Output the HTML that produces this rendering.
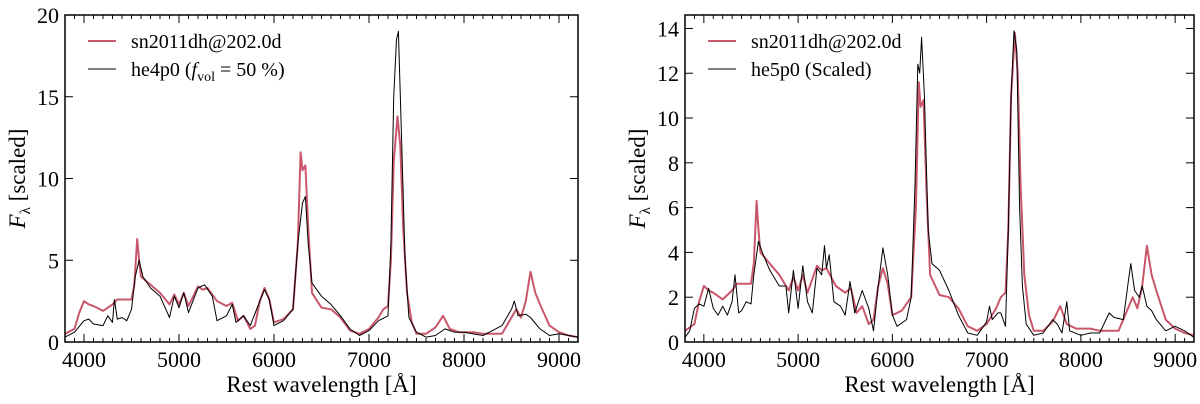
<!DOCTYPE html>
<html><head><meta charset="utf-8"><style>
html,body{margin:0;padding:0;background:#fff;}
svg{display:block;font-family:"Liberation Serif",serif;}
</style></head><body>
<svg id="chart" width="1200" height="404"></svg>
<script>
const wlRed=[3800,3900,3950,4000,4050,4100,4200,4300,4350,4400,4500,4530,4560,4580,4600,4700,4800,4900,4950,5000,5050,5100,5200,5250,5300,5400,5500,5560,5620,5680,5750,5800,5850,5900,5950,6000,6100,6200,6250,6280,6300,6330,6360,6400,6500,6600,6700,6800,6900,7000,7100,7150,7200,7230,7260,7300,7330,7360,7400,7450,7500,7600,7700,7780,7850,7950,8100,8200,8400,8500,8550,8600,8650,8700,8750,8800,8900,9000,9100,9200];
const fluxRed=[0.5,0.8,1.8,2.5,2.3,2.2,1.9,2.3,2.6,2.6,2.6,3.5,6.3,5,4,3.5,3,2.3,2.9,2.3,3,2.2,3.4,3.2,3.3,2.5,2.2,2.4,1.3,1.6,0.8,1.0,2.5,3.3,2.6,1.2,1.4,2.0,6,11.6,10.5,10.8,7,3,2.1,2.0,1.5,0.7,0.5,0.8,1.5,2.0,2.2,5,11,13.8,12,7,3,1.2,0.5,0.5,0.9,1.6,0.8,0.6,0.6,0.5,0.5,1.5,2.0,1.5,2.5,4.3,3,2.3,1.0,0.6,0.4,0.3];
const wlHe4=[3800,3900,4000,4050,4100,4200,4250,4300,4320,4350,4400,4450,4500,4540,4580,4620,4700,4800,4900,4950,5000,5050,5100,5200,5270,5350,5400,5500,5560,5600,5680,5750,5850,5900,5950,6000,6100,6200,6250,6300,6330,6360,6400,6500,6600,6700,6800,6900,7000,7100,7200,7230,7260,7290,7310,7340,7380,7420,7500,7600,7700,7800,7900,8000,8200,8300,8400,8500,8530,8570,8650,8700,8800,8900,9000,9100,9200];
const fluxHe4=[0.3,0.6,1.3,1.4,1.1,1.0,1.6,1.2,2.6,1.4,1.5,1.3,2.0,4,5,4,3.3,2.8,1.5,2.8,2.1,3,1.8,3.3,3.5,2.8,1.3,1.6,2.3,1.2,1.6,1.0,2.5,3.2,2.6,1.0,1.3,2.0,6,8.5,8.9,6,3.6,2.8,2.3,1.6,0.8,0.4,0.7,1.3,1.6,6,15,18.5,19,13,5,1.5,0.6,0.3,0.4,0.8,0.6,0.6,0.4,0.7,1.0,2.0,2.5,1.6,1.7,1.5,0.8,0.4,0.5,0.4,0.3];
const wlHe5=[3800,3850,3900,3950,4000,4050,4100,4150,4200,4250,4300,4330,4370,4400,4450,4500,4530,4580,4620,4700,4800,4870,4900,4950,5000,5050,5100,5150,5200,5250,5280,5300,5330,5380,5450,5500,5550,5600,5680,5750,5800,5850,5900,5950,6000,6050,6150,6200,6240,6270,6290,6310,6340,6380,6420,6500,6600,6700,6800,6900,7000,7030,7060,7120,7150,7200,7230,7260,7290,7320,7350,7380,7420,7500,7600,7700,7750,7800,7850,7880,8000,8100,8200,8300,8350,8450,8500,8530,8570,8620,8650,8700,8750,8800,8900,9000,9100,9200];
const fluxHe5=[0.2,0.5,1.5,1.7,1.6,2.4,1.5,1.2,1.6,1.2,1.8,3.0,1.3,1.4,1.8,1.7,3,4.5,4,3.2,2.5,2.5,1.3,3.2,1.5,3.4,1.8,1.3,3.3,3.0,4.3,3.3,3.9,1.8,1.6,1.2,2.7,1.3,2.3,1.5,0.5,2.5,4.2,3.0,1.2,0.7,1.0,2.0,7,12.4,12,13.6,11,5,3.5,3.2,2.3,1.2,0.4,0.3,0.9,1.6,1.0,1.3,1.3,0.7,5,11,13.9,13,6,2.5,0.8,0.3,0.4,1.0,0.8,0.4,1.8,0.5,0.3,0.4,0.4,1.3,1.1,1.0,2.6,3.5,2.3,2.0,2.5,1.6,1.4,1.0,0.5,0.7,0.5,0.2];
const xTicks=[4000,5000,6000,7000,8000,9000];
const yTicksL=[0,5,10,15,20];
const yTicksR=[0,2,4,6,8,10,12,14];

const NS='http://www.w3.org/2000/svg';
const svg=document.getElementById('chart');
function mk(tag,attrs,parent){const e=document.createElementNS(NS,tag);for(const k in attrs)e.setAttribute(k,attrs[k]);(parent||svg).appendChild(e);return e;}

function panel(p){
  const g=mk('g',{});
  
  
  const X=v=>p.x0+(v-3800)/(9200-3800)*(p.x1-p.x0);
  const Y=v=>p.y0-(v-0)/p.ymax*(p.y0-p.y1);
  const cp='clip'+p.name;
  const c=mk('clipPath',{id:cp},g);mk('rect',{x:p.x0,y:p.y1,width:p.x1-p.x0,height:p.y0-p.y1},c);
  const lg=mk('g',{'clip-path':'url(#'+cp+')'},g);
  const draw=(wl,fl,color,w,name)=>{let d='';wl.forEach((v,i)=>{d+=(i?'L':'M')+X(v).toFixed(1)+','+Y(fl[i]).toFixed(1);});
    const l=mk('path',{d:d,fill:'none',stroke:color,'stroke-width':w,'stroke-linejoin':'round'},lg);
    
    };
  draw(wlRed,fluxRed,'#c9576b',2,'series-sn2011dh');
  draw(p.wl,p.fl,'#000',1,'series-'+p.model);
  const frame=mk('rect',{x:p.x0,y:p.y1,width:p.x1-p.x0,height:p.y0-p.y1,fill:'none',stroke:'#000','stroke-width':1.5},g);
  
  
  for(let v=3800;v<=9200;v+=100){const x=X(v);const major=v%1000===0;const L=major?8:4;
    mk('line',{x1:x,x2:x,y1:p.y0,y2:p.y0-L,stroke:'#000','stroke-width':1},g);
    mk('line',{x1:x,x2:x,y1:p.y1,y2:p.y1+L,stroke:'#000','stroke-width':1},g);}
  xTicks.forEach(v=>{const t=mk('text',{x:X(v),y:p.y0+25,'text-anchor':'middle','font-size':22},g);t.textContent=v;
    
    });
  p.yt.forEach(v=>{const y=Y(v);
    mk('line',{x1:p.x0,x2:p.x0+8,y1:y,y2:y,stroke:'#000'},g);mk('line',{x1:p.x1,x2:p.x1-8,y1:y,y2:y,stroke:'#000'},g);
    const t=mk('text',{x:p.x0-6,y:y+8,'text-anchor':'end','font-size':22},g);t.textContent=v;
    
    });
  const xt=mk('text',{x:(p.x0+p.x1)/2,y:392,'text-anchor':'middle','font-size':23},g);xt.textContent='Rest wavelength [Å]';
  
  
  const yt=mk('text',{x:0,y:0,'text-anchor':'middle','font-size':23,transform:'translate('+(p.x0-40)+','+((p.y0+p.y1)/2)+') rotate(-90)'},g);
  yt.innerHTML='<tspan font-style="italic">F</tspan><tspan font-size="15" dy="5">λ</tspan><tspan dy="-5"> [scaled]</tspan>';
  
  
  const leg=mk('g',{},g);
  
  
  mk('line',{x1:p.x0+23,x2:p.x0+51,y1:41,y2:41,stroke:'#c9576b','stroke-width':2},leg);
  mk('line',{x1:p.x0+23,x2:p.x0+51,y1:69,y2:69,stroke:'#000','stroke-width':1},leg);
  const t1=mk('text',{x:p.x0+66,y:48,'font-size':20},leg);t1.textContent='sn2011dh@202.0d';
  
  
  const t2=mk('text',{x:p.x0+66,y:76,'font-size':20},leg);t2.innerHTML=p.label;
  
  
}
panel({name:'left-panel',model:'he4p0',x0:65,x1:578,y0:342,y1:15,ymax:20,yt:yTicksL,wl:wlHe4,fl:fluxHe4,
  label:'he4p0 (<tspan font-style="italic">f</tspan><tspan font-size="14" dy="5">vol</tspan><tspan dy="-5"> = 50 %)</tspan>'});
panel({name:'right-panel',model:'he5p0',x0:685,x1:1194,y0:342,y1:15,ymax:14.6,yt:yTicksR,wl:wlHe5,fl:fluxHe5,
  label:'he5p0 (Scaled)'});
</script>
</body></html>
